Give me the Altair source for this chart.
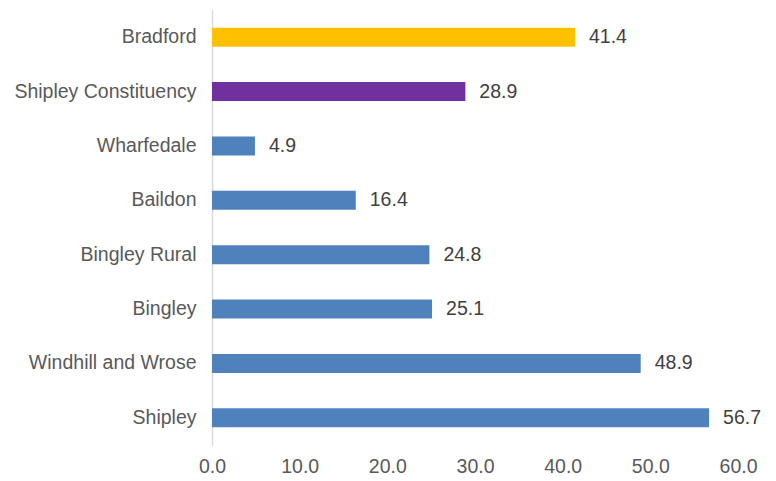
import altair as alt
import pandas as pd

areas = ["Bradford", "Shipley Constituency", "Wharfedale", "Baildon",
         "Bingley Rural", "Bingley", "Windhill and Wrose", "Shipley"]
values = [41.4, 28.9, 4.9, 16.4, 24.8, 25.1, 48.9, 56.7]
colors = ["#FFC000", "#7030A0", "#4F81BD", "#4F81BD",
          "#4F81BD", "#4F81BD", "#4F81BD", "#4F81BD"]

df = pd.DataFrame({"area": areas, "value": values, "color": colors})
df["label"] = df["value"].map(lambda v: f"{v:.1f}")

FS = 19.5

x = alt.X("value:Q", scale=alt.Scale(domain=[0, 60], nice=False),
          axis=alt.Axis(values=[0, 10, 20, 30, 40, 50, 60], format=".1f",
                        grid=False, domain=False, ticks=False, title=None,
                        labelFlush=False,
                        labelFont="Liberation Sans", labelFontSize=FS,
                        labelColor="#595959", labelPadding=12))
y = alt.Y("area:N", sort=areas,
          scale=alt.Scale(paddingInner=0.65, paddingOuter=0.325),
          axis=alt.Axis(title=None, ticks=False, domain=True,
                        domainColor="#D9D9D9", domainWidth=1.5,
                        labelLimit=400,
                        labelFont="Liberation Sans", labelFontSize=FS,
                        labelColor="#595959", labelPadding=16))

bars = alt.Chart(df).mark_bar().encode(
    x=x, y=y, color=alt.Color("color:N", scale=None)
)
text = alt.Chart(df).mark_text(
    align="left", baseline="middle", dx=14,
    font="Liberation Sans", fontSize=FS, color="#404040"
).encode(x="value:Q", y=alt.Y("area:N", sort=areas), text="label:N")

chart = (bars + text).properties(
    width=526, height=435,
    autosize=alt.AutoSizeParams(type="none"),
    padding={"left": 204, "top": 2, "right": 30, "bottom": 40},
).configure_view(stroke=None)

chart.save("out.html", embed_options={"renderer": "svg", "actions": False})
